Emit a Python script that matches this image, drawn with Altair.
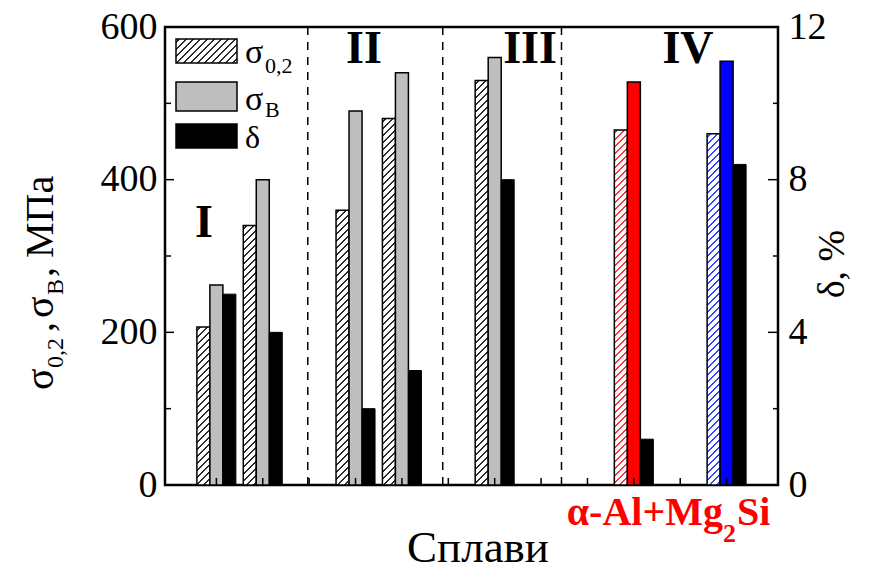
import altair as alt
import pandas as pd

# ---------------- data ----------------
alloy_pos = [1, 2, 4, 5, 7, 10, 12]
sigma_02 = [207, 340, 360, 480, 530, 465, 460]
sigma_B = [262, 400, 490, 540, 560, 528, 555]
delta_pct = [5.0, 4.0, 2.0, 3.0, 8.0, 1.2, 8.4]
solid_fill = ["#bebebe"] * 5 + ["#ff0000", "#0000ff"]
hatch_line = ["#2a2a2a"] * 5 + ["#ff3333", "#3344ff"]
x_tick_pos = list(range(1, 13))
separator_pos = [2.97, 5.88, 8.44]
mpa_ticks = [0, 200, 400, 600]
mpa_minor = [100, 300, 500]
pct_ticks = [0, 4, 8, 12]
pct_minor = [2, 6, 10]

W, H = 613, 458
MPA_MAX, PCT_MAX = 600, 12
BAR = 13
FONT = "'Liberation Serif', 'Times New Roman', 'DejaVu Serif', serif"


def hatch_gradient(w, h, color, spacing=7.0, lw=1.8):
    """Diagonal '/' hatch as a hard-stop linear gradient (bbox units)."""
    S = w + h
    m = h * (w + h) / (h * h + w * w)
    a = w / h
    stops = [{"offset": 0, "color": "white"}]
    s = spacing / 2
    while s < S:
        o1 = round(max(0.0, (s - lw / 2) / S), 5)
        o2 = round(min(1.0, (s + lw / 2) / S), 5)
        stops += [
            {"offset": o1, "color": "white"},
            {"offset": o1, "color": color},
            {"offset": o2, "color": color},
            {"offset": o2, "color": "white"},
        ]
        s += spacing
    stops.append({"offset": 1, "color": "white"})
    return {"gradient": "linear", "x1": 0, "y1": 0, "x2": m * a, "y2": m, "stops": stops}


df = pd.DataFrame({"pos": alloy_pos, "s02": sigma_02, "sB": sigma_B,
                   "d": delta_pct, "fill": solid_fill})
xs = alt.Scale(domain=[0, 13], nice=False, zero=False)
ys = alt.Scale(domain=[0, MPA_MAX], nice=False)
ds = alt.Scale(domain=[0, PCT_MAX], nice=False)

X = alt.X("pos:Q", scale=xs, axis=None)

left_axis = alt.Axis(values=mpa_ticks, ticks=False, tickSize=0, domain=False, grid=False,
                     labelFont=FONT, labelFontSize=38, labelColor="black",
                     labelPadding=8, title=None, labelFlush=False, labelOverlap=False)
right_axis = alt.Axis(orient="right", values=pct_ticks, ticks=False, tickSize=0, domain=False,
                      grid=False, labelFont=FONT, labelFontSize=38, labelColor="black",
                      labelPadding=10, title=None, labelFlush=False, labelOverlap=False)

layers = []

# dashed separators
layers.append(
    alt.Chart(pd.DataFrame({"s": separator_pos})).mark_rule(
        color="black", strokeWidth=1.5, strokeDash=[8, 7]
    ).encode(x=alt.X("s:Q", scale=xs, axis=None))
)

# hatched sigma_0.2 bars (one layer each for its own hatch)
for i in range(len(alloy_pos)):
    h = sigma_02[i] * H / MPA_MAX
    g = hatch_gradient(BAR, h, hatch_line[i])
    layers.append(
        alt.Chart(df.iloc[[i]]).mark_bar(
            size=BAR, xOffset=-BAR, fill=g, stroke="black", strokeWidth=1.5
        ).encode(x=X, y=alt.Y("s02:Q", scale=ys, axis=None))
    )

# sigma_B bars
layers.append(
    alt.Chart(df).mark_bar(size=BAR, stroke="black", strokeWidth=1.5).encode(
        x=X, y=alt.Y("sB:Q", scale=ys, axis=left_axis),
        fill=alt.Fill("fill:N", scale=None))
)

# delta bars (right axis)
layers.append(
    alt.Chart(df).mark_bar(size=BAR, xOffset=BAR, color="black", stroke="black",
                           strokeWidth=1).encode(
        x=X, y=alt.Y("d:Q", scale=ds, axis=right_axis))
)

# inward ticks
def yticks(vals, scale, x0, x1):
    return alt.Chart(pd.DataFrame({"v": vals})).mark_rule(color="black", strokeWidth=1.5).encode(
        y=alt.Y("v:Q", scale=scale, axis=None), x=alt.value(x0), x2=alt.value(x1))

layers += [
    yticks(mpa_ticks, ys, 0, 9),
    yticks(mpa_minor, ys, 0, 6),
    yticks(pct_ticks, ds, W, W - 10),
    yticks(pct_minor, ds, W, W - 5),
    alt.Chart(pd.DataFrame({"t": x_tick_pos})).mark_rule(color="black", strokeWidth=1.5).encode(
        x=alt.X("t:Q", scale=xs, axis=None), y=alt.value(H), y2=alt.value(H - 7)),
]

one = pd.DataFrame({"k": [0]})


def txt(s, x, y, size, align="left", baseline="alphabetic", color="black", **kw):
    return alt.Chart(one).mark_text(
        text=s, font=FONT, fontSize=size, align=align, baseline=baseline, color=color, **kw
    ).encode(x=alt.value(x), y=alt.value(y))


def box(x0, x1, y0, y1, fill):
    return alt.Chart(one).mark_rect(fill=fill, stroke="black", strokeWidth=1.5).encode(
        x=alt.value(x0), x2=alt.value(x1), y=alt.value(y0), y2=alt.value(y1))


# legend
layers += [
    box(11, 72, 12, 36, hatch_gradient(61, 24, "#2a2a2a")),
    box(11, 72, 55, 84, "#bebebe"),
    box(11, 72, 97, 121, "black"),
    txt("σ", 80, 36, 34),
    txt("0,2", 100, 46, 22),
    txt("σ", 80, 83, 34),
    txt("В", 100, 90, 22),
    txt("δ", 80, 121, 32),
]

# group numerals
layers += [
    txt("I", 39, 210, 46, align="center", fontWeight="bold"),
    txt("II", 199, 36, 46, align="center", fontWeight="bold"),
    txt("III", 365, 36, 46, align="center", fontWeight="bold"),
    txt("IV", 523, 36, 46, align="center", fontWeight="bold"),
]

# x title and phase label
layers += [
    txt("Сплави", 313, 535, 45, align="center"),
    txt("α-Al+Mg", 558, 498, 40, align="right", color="#ff0000", fontWeight="bold"),
    txt("2", 558, 515, 26, color="#ff0000", fontWeight="bold"),
    txt("Si", 572, 498, 40, color="#ff0000", fontWeight="bold"),
]

# left axis title (rotated, with subscripts)
for s, y, size, bx in [("σ", 363, 40, -112), ("0,2", 341, 24, -102), (",", 305, 40, -112),
                       ("σ", 291, 40, -112), ("В", 268, 24, -102), (",", 250, 40, -112),
                       ("МПа", 231, 40, -112)]:
    layers.append(txt(s, bx, y, size, angle=270))

# right axis title
layers.append(txt("δ, %", 668, 237, 38, align="center", baseline="middle", angle=270))

chart = alt.layer(*layers).resolve_scale(y="independent").properties(
    width=W, height=H,
    autosize=alt.AutoSizeParams(type="none"),
    padding={"left": 157, "top": 19, "right": 80, "bottom": 80},
    background="white",
).configure_view(stroke="black", strokeWidth=2.5)

chart.save("out.html", embed_options={"renderer": "svg", "actions": False})
